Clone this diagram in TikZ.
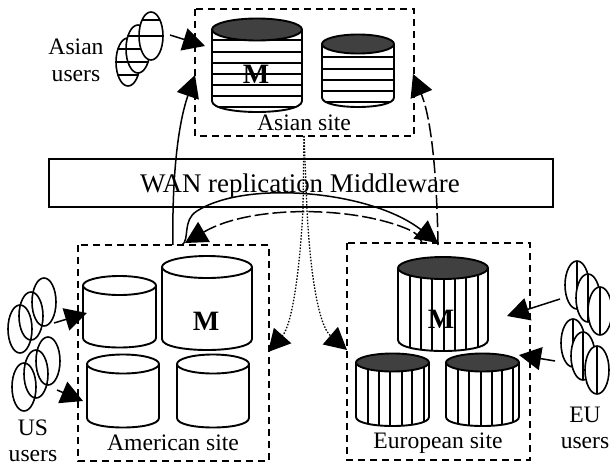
\documentclass[tikz,border=0pt]{standalone}
\usepackage{fontspec}
\setmainfont{Liberation Serif}
\usetikzlibrary{arrows.meta}
\definecolor{topdark}{HTML}{404040}
\tikzset{
  x=1pt,y=-1pt,
  sitebox/.style={draw,line width=1.7pt,dash pattern=on 7pt off 5pt},
  cylline/.style={line width=1.9pt,line join=round},
  stripe/.style={line width=1.9pt},
  userstripe/.style={line width=2.3pt},
  usercloud/.style={line width=1.6pt},
  lbl/.style={anchor=base,inner sep=0pt,font=\fontsize{23.6}{23.6}\selectfont},
  mlbl/.style={anchor=base,inner sep=0pt,font=\fontsize{28}{28}\selectfont\bfseries},
  flow/.style={line width=1.5pt,-{Triangle[length=22pt,width=23pt]}},
  dashflow/.style={flow,dash pattern=on 14pt off 4pt},
  dotflow/.style={flow,line width=1.3pt,dash pattern=on 1.5pt off 1.6pt},
}
% #1 left #2 right #3 top centre y #4 ry #5 side bottom y #6 top fill #7 stripe code
\newcommand{\dbcyl}[7]{%
  \pgfmathsetmacro{\cxx}{(#1+#2)/2}\pgfmathsetmacro{\rxx}{(#2-#1)/2}%
  \pgfmathsetmacro{\byy}{#5+1.333*#4}%
  \fill[white] (#1,#3) -- (#1,#5) .. controls (#1,\byy) and (#2,\byy) .. (#2,#5) -- (#2,#3) -- cycle;
  \begin{scope}
    \clip (#1,#3) -- (#1,#5) .. controls (#1,\byy) and (#2,\byy) .. (#2,#5) -- (#2,#3) -- cycle;
    #7
  \end{scope}
  \draw[cylline] (#1,#3) -- (#1,#5) .. controls (#1,\byy) and (#2,\byy) .. (#2,#5) -- (#2,#3);
  \draw[cylline,fill=#6] (\cxx,#3) ellipse[x radius=\rxx pt,y radius=#4pt];
}
\newcommand{\hstr}[1]{\foreach \yy in {#1}{\draw[stripe] (0,\yy) -- (610,\yy);}}
\newcommand{\vstr}[1]{\foreach \xx in {#1}{\draw[userstripe] (\xx,0) -- (\xx,466);}}
\newcommand{\vcol}[1]{\foreach \xx in {#1}{\draw[stripe] (\xx,0) -- (\xx,466);}}
\newcommand{\userell}[3]{%
  \fill[white] (#1,#2) ellipse[x radius=12pt,y radius=24pt];
  \begin{scope}\clip (#1,#2) ellipse[x radius=12pt,y radius=24pt];#3\end{scope}
  \draw[usercloud] (#1,#2) ellipse[x radius=12pt,y radius=24pt];
}
\begin{document}
\begin{tikzpicture}
\useasboundingbox (0,0) rectangle (610,466);
\fill[white] (0,0) rectangle (610,466);
% sites
\draw[sitebox] (195,9) rectangle (414,136);
\draw[sitebox] (78,245) rectangle (269,461);
\draw[sitebox] (347,243) rectangle (530,460);
% Asian
\dbcyl{212}{302}{29.5}{11}{101}{topdark}{\hstr{40,52,63,74,85,96,107}}
\dbcyl{322}{394}{44}{9.5}{97.5}{topdark}{\hstr{57,69,80,91,102}}
% American
\dbcyl{83}{156}{285.5}{9.5}{338}{white}{}
\dbcyl{162}{252}{267}{11}{339}{white}{}
\dbcyl{87}{159}{364}{9.5}{418}{white}{}
\dbcyl{177}{249}{364}{9.5}{418}{white}{}
% European
\dbcyl{398}{488}{268}{11}{340}{topdark}{\vcol{410,421,432,444,455,466,478}}
\dbcyl{356}{429}{362.5}{9}{417}{topdark}{\vcol{368,379,390,402,412,424}}
\dbcyl{446}{519}{362.5}{9}{417}{topdark}{\vcol{458,469,481,492,502,513}}
% WAN
\node[draw,line width=1.7pt,minimum width=504pt,minimum height=48pt,inner sep=0pt,anchor=north west] (wan) at (48,158) {};
\node[anchor=base,inner sep=0pt,font=\fontsize{26.9}{26.9}\selectfont] (wanlabel) at (300,192) {WAN replication Middleware};
% users
\userell{128}{62}{\hstr{49,62,75}}
\userell{138}{49}{\hstr{36,49,62}}
\userell{151}{36}{\hstr{20,36}}
\foreach \a/\b in {20/329,31/316,44/302,24/387,36/374,48/361}{
  \draw[usercloud] (\a,\b) ellipse[x radius=12pt,y radius=24pt];}
\userell{577}{285}{\vstr{577}}
\userell{588}{298}{\vstr{588}}
\userell{600}{311}{\vstr{600}}
\userell{573}{343}{\vstr{573}}
\userell{583}{356}{\vstr{583}}
\userell{597}{370}{\vstr{597}}
% labels
\node[lbl] (la1) at (76,54) {Asian};
\node[lbl] (la2) at (76,81) {users};
\node[lbl] (ls1) at (304,130) {Asian site};
\node[lbl] (ls2) at (173,450) {American site};
\node[lbl] (ls3) at (438,448) {European site};
\node[lbl] (lu1) at (33,435) {US};
\node[lbl] (lu2) at (33,461) {users};
\node[lbl] (le1) at (585,422) {EU};
\node[lbl] (le2) at (585,448) {users};
\node[mlbl] (m1) at (256,83) {M};
\node[mlbl] (m2) at (206,330) {M};
\node[mlbl] (m3) at (441,328) {M};
% connector ends
\coordinate (au) at (170,35);
\coordinate (am) at (205,46);
\coordinate (us1) at (54,323);
\coordinate (us1t) at (87,313);
\coordinate (us2) at (57,390);
\coordinate (us2t) at (83,401);
\coordinate (eu1) at (560,299);
\coordinate (eu1t) at (507,316);
\coordinate (eu2) at (555,361);
\coordinate (eu2t) at (519,355);
\coordinate (amtop) at (173,245);
\coordinate (asl) at (195,75);
\coordinate (eutop) at (438,245);
\coordinate (asr) at (413,74);
\coordinate (amtop2) at (182,245);
\coordinate (eutop2) at (438,243);
\coordinate (eutop3) at (422,243);
\coordinate (amtop3) at (185,243);
\coordinate (asb) at (304,136);
\coordinate (dl) at (303,208);
\coordinate (dr) at (307,210);
\coordinate (amr) at (268,352);
\coordinate (eul) at (347,350);
% connectors
\draw[flow] (au) -- (am);
\draw[flow] (us1) -- (us1t);
\draw[flow] (us2) -- (us2t);
\draw[flow] (eu1) -- (eu1t);
\draw[flow] (eu2) -- (eu2t);
\draw[flow] (amtop) .. controls (172,190) and (176,130) .. (asl);
\draw[dashflow] (eutop) .. controls (437,180) and (432,120) .. (asr);
\draw[flow] (amtop2) .. controls (190,240) and (182,220) .. (197,211) .. controls (245,180) and (370,190) .. (eutop2);
\draw[dashflow] (eutop3) .. controls (420,236) and (415,232) .. (405,228) .. controls (350,206) and (250,205) .. (amtop3);
\draw[dotflow] (asb) -- (dl) .. controls (300,270) and (292,325) .. (amr);
\draw[dotflow] (asb) -- (dr) .. controls (310,270) and (318,325) .. (eul);
\end{tikzpicture}
\end{document}
